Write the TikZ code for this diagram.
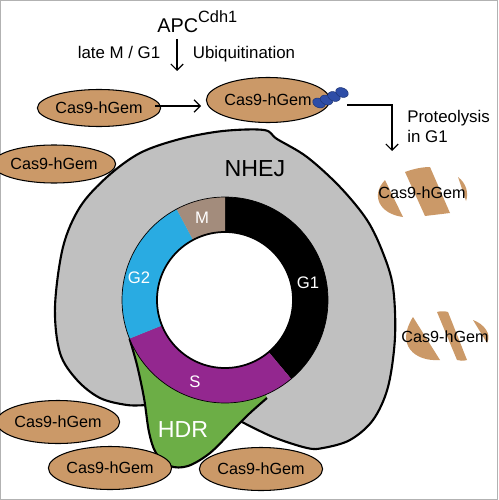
\documentclass[tikz,border=0pt]{standalone}
\usepackage{fontspec}
\setmainfont{Liberation Sans}
\usetikzlibrary{shapes.geometric,arrows.meta}
\definecolor{tanc}{RGB}{203,153,104}
\definecolor{nhejgray}{RGB}{192,192,192}
\definecolor{mphase}{RGB}{163,140,124}
\definecolor{gtwo}{RGB}{41,171,226}
\definecolor{sphase}{RGB}{147,39,143}
\definecolor{hdrgreen}{RGB}{108,174,70}
\definecolor{ubq}{RGB}{46,77,167}
\begin{document}
\begin{tikzpicture}[x=0.02cm,y=-0.02cm,
  cas/.style={ellipse, draw=black, line width=0.6pt, fill=tanc, minimum width=1.76cm, minimum height=0.86cm, inner sep=0pt, font=\fontsize{9.2}{10}\selectfont},
  lbl/.style={font=\fontsize{9.6}{11}\selectfont, inner sep=0pt},
  castext/.style={font=\fontsize{9.2}{10}\selectfont, inner sep=0pt},
  phase/.style={text=white, font=\fontsize{9.5}{11}\selectfont, inner sep=0pt},
  arr/.style={-{Straight Barb[length=3.5pt,width=7pt]}, line width=0.7pt},
  piece/.style={fill=tanc}]
\useasboundingbox (0,0) rectangle (498,500);
\draw[gray!60, line width=0.8pt] (0.7,0.7) rectangle (497.3,499.3);

% NHEJ gray shape
\filldraw[fill=nhejgray, draw=black, line width=1.2pt]
  plot[smooth, tension=0.55] coordinates {(242,422) (273,437) (307,448) (323,448) (350,440) (373,420) (388,387) (395,337) (393,287) (383,253) (367,220) (340,187) (307,157) (277,139) (264,130) (223,131) (180,139) (140,153) (107,177) (80,207) (63,247) (55,307) (60,353) (77,380) (100,398) (127,405) (146,405)}
  -- (195,395) -- cycle;

% HDR
\fill[hdrgreen] plot[smooth, tension=0.55] coordinates {(129.5,338.6) (137,365) (144,398) (149,432) (156,453) (170,466) (188,466) (210,453) (233,430) (250,413) (267,398)} -- (225,300) -- cycle;
\draw[line width=1.2pt] plot[smooth, tension=0.55] coordinates {(129.5,338.6) (137,365) (144,398) (149,432) (156,453) (170,466) (188,466) (210,453) (233,430) (250,413) (267,398)};

% cell-cycle ring
\begin{scope}[shift={(225,300)}, yscale=-1]
  \fill[black] (90:68) -- (90:103) arc[start angle=90,end angle=-50,radius=103] -- (-50:68) arc[start angle=-50,end angle=90,radius=68] -- cycle;
  \fill[sphase] (-50:68) -- (-50:103) arc[start angle=-50,end angle=-158,radius=103] -- (-158:68) arc[start angle=-158,end angle=-50,radius=68] -- cycle;
  \fill[gtwo] (-158:68) -- (-158:103) arc[start angle=-158,end angle=-242,radius=103] -- (-242:68) arc[start angle=-242,end angle=-158,radius=68] -- cycle;
  \fill[mphase] (-242:68) -- (-242:103) arc[start angle=-242,end angle=-270,radius=103] -- (-270:68) arc[start angle=-270,end angle=-242,radius=68] -- cycle;
  \draw[line width=0.4pt] (0,0) circle[radius=103];
  \fill[white] (0,0) circle[radius=68];
  \draw[line width=1pt] (0,0) circle[radius=68];
\end{scope}

\node[phase] (m) at (202,218) {M};
\node[phase] (g2) at (139,278) {G2};
\node[phase] (g1) at (308,283) {G1};
\node[phase] (s) at (195,382) {S};
\node[text=white, font=\fontsize{13.2}{15}\selectfont, inner sep=0pt] (hdr) at (183,430) {HDR};
\node[font=\fontsize{13.2}{15}\selectfont, inner sep=0pt] (nhej) at (255,169) {NHEJ};

% top
\node[anchor=base west, inner sep=0pt, font=\fontsize{11.3}{12}\selectfont] (apc) at (157,33) {APC\raisebox{6pt}{\fontsize{9.3}{10}\selectfont Cdh1}};
\node[lbl, anchor=base] (late) at (119,59) {late M / G1};
\node[lbl, anchor=base] (ubi) at (244,59) {Ubiquitination};
\coordinate (d1) at (177,39);
\coordinate (d2) at (177,71);
\draw[arr] (d1) -- (d2);

\node[cas, minimum height=0.74cm] (e1) at (99,108) {Cas9-hGem};
\node[cas, minimum height=0.9cm, minimum width=1.74cm] (e2) at (268,100) {Cas9-hGem};
\node[cas, minimum height=0.76cm] (e3) at (54,164) {Cas9-hGem};
\node[cas, minimum width=1.8cm] (e4) at (58,422) {Cas9-hGem};
\node[cas, minimum width=1.78cm] (e5) at (110,468) {Cas9-hGem};
\node[cas] (e6) at (261,469) {Cas9-hGem};

\coordinate (h1) at (155,106);
\coordinate (h2) at (201,106);
\draw[arr] (h1) -- (h2);

% ubiquitin chain
\foreach \i/\px/\py in {1/319/103, 2/326.5/100, 3/334/96.5, 4/342/92.5}
  \filldraw[fill=ubq, draw=ubq!70!black, line width=0.3pt, rotate around={-22:(\px,\py)}] (\px,\py) ellipse[x radius=6.5, y radius=4.6];

\coordinate (p1) at (347,105);
\coordinate (p2) at (392,151);
\draw[arr] (p1) -| (p2);
\node[lbl, anchor=base west] (prot) at (407,122) {Proteolysis};
\node[lbl, anchor=base west] (ing1) at (407,142) {in G1};

% shredded ellipse (upper)
\fill[piece] (385,180) -- (403,217) .. controls (380,214) and (370,196) .. (385,180);
\fill[piece] (405,172) .. controls (413,169) and (422,167) .. (430,167) -- (450,213) .. controls (442,214) and (433,215) .. (425,216) -- cycle;
\fill[piece] (458,177) .. controls (466,183) and (469,193) .. (466,201) -- cycle;
\node[castext] (sh1) at (422,193) {Cas9-hGem};

% shredded ellipse (lower)
\fill[piece] (413,317) -- (440,360) .. controls (415,362) and (395,345) .. (413,317);
\fill[piece] (437,312) .. controls (440,311) and (445,311) .. (448,312) -- (467,360) .. controls (463,361) and (460,361) .. (457,360) -- cycle;
\fill[piece] (473,320) .. controls (484,324) and (492,334) .. (487,343) -- cycle;
\node[castext] (sh2) at (445,337) {Cas9-hGem};
\end{tikzpicture}
\end{document}
